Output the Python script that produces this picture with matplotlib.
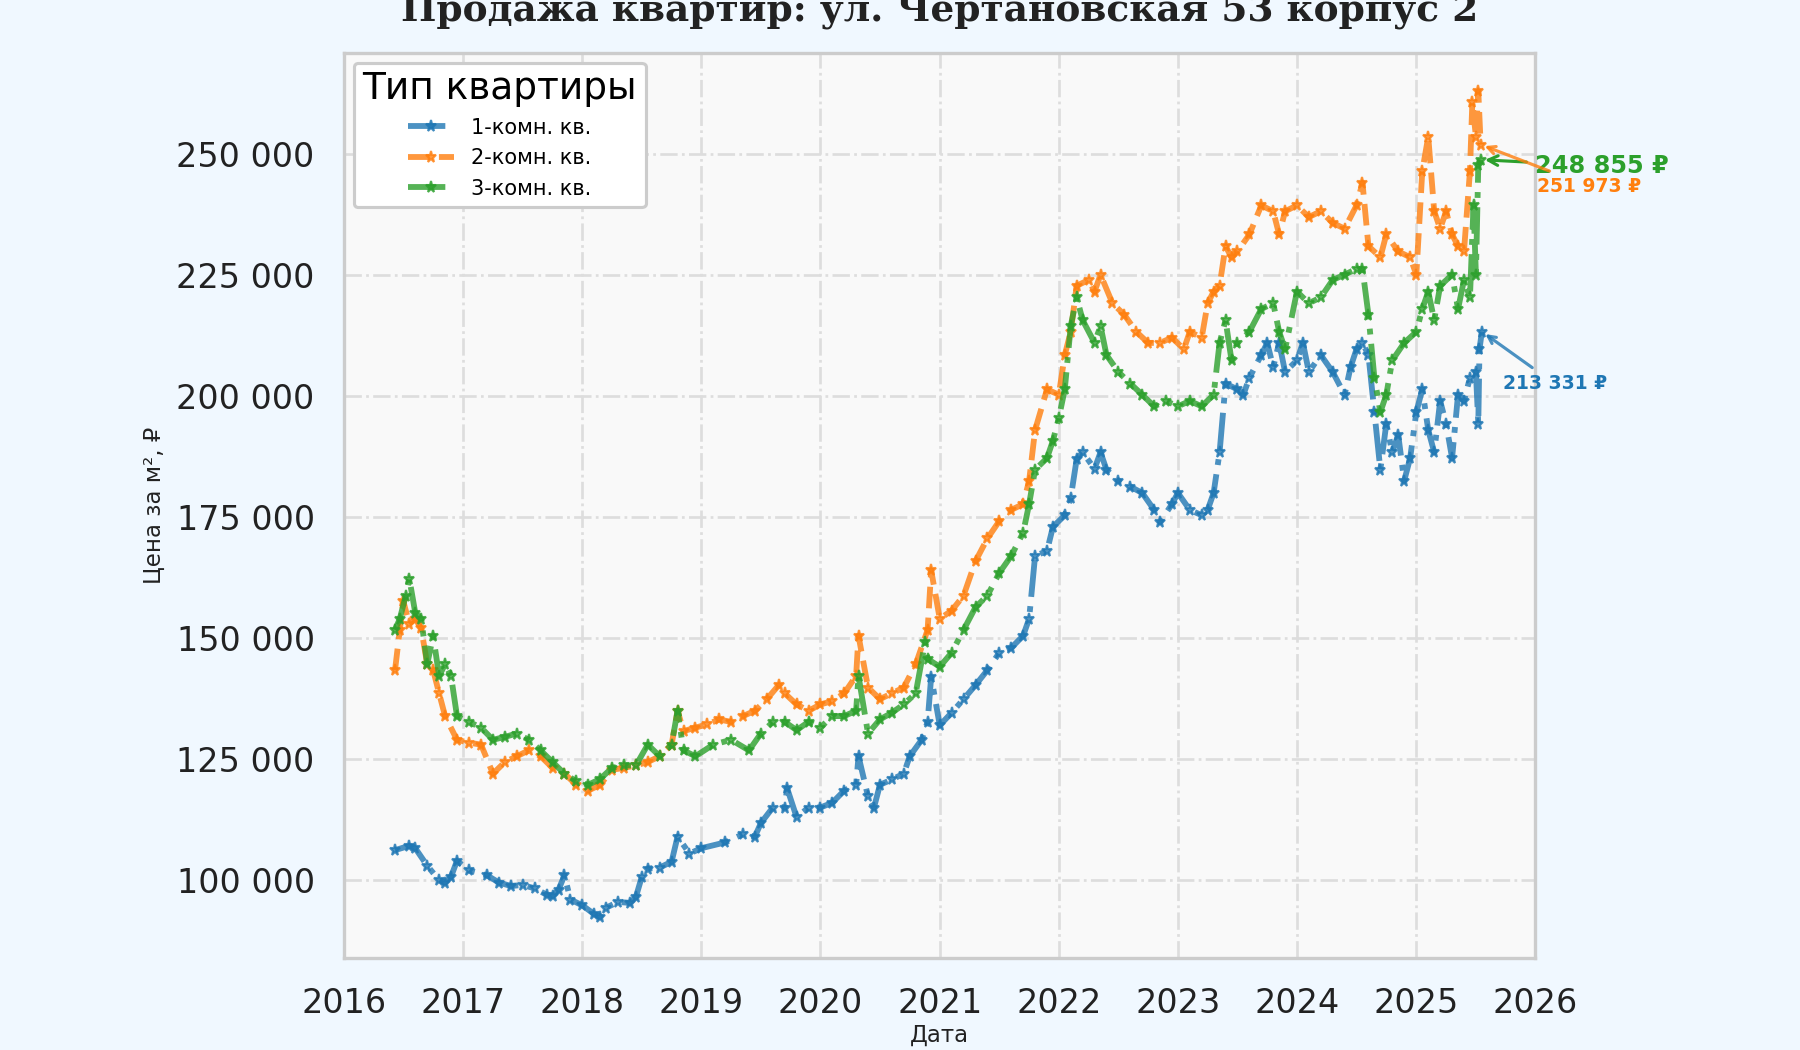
import matplotlib
matplotlib.use('Agg')
import matplotlib.pyplot as plt
import matplotlib.dates as mdates
from matplotlib.ticker import FuncFormatter, MultipleLocator
from datetime import datetime, timedelta

# --- data (decimal year, price per m2) ---
t1 = [2016.43, 2016.55, 2016.6, 2016.7, 2016.8, 2016.85, 2016.9, 2016.95, 2017.05, 2017.2,
      2017.3, 2017.4, 2017.5, 2017.6, 2017.7, 2017.75, 2017.8, 2017.85, 2017.9, 2018.0,
      2018.1, 2018.15, 2018.2, 2018.3, 2018.4, 2018.45, 2018.5, 2018.55, 2018.65, 2018.75,
      2018.8, 2018.9, 2019.0, 2019.2, 2019.35, 2019.45, 2019.5, 2019.6, 2019.7, 2019.72,
      2019.8, 2019.9, 2020.0, 2020.1, 2020.2, 2020.3, 2020.32, 2020.4, 2020.45, 2020.5,
      2020.6, 2020.7, 2020.75, 2020.85, 2020.9, 2020.93, 2021.0, 2021.1, 2021.2, 2021.3,
      2021.4, 2021.5, 2021.6, 2021.7, 2021.75, 2021.8, 2021.9, 2021.95, 2022.05, 2022.1,
      2022.15, 2022.2, 2022.3, 2022.35, 2022.4, 2022.5, 2022.6, 2022.7, 2022.8, 2022.85,
      2022.95, 2023.0, 2023.1, 2023.2, 2023.25, 2023.3, 2023.35, 2023.4, 2023.5, 2023.55,
      2023.6, 2023.7, 2023.75, 2023.8, 2023.85, 2023.9, 2024.0, 2024.05, 2024.1, 2024.2,
      2024.3, 2024.4, 2024.45, 2024.5, 2024.55, 2024.6, 2024.65, 2024.7, 2024.75, 2024.8,
      2024.85, 2024.9, 2024.95, 2025.0, 2025.05, 2025.1, 2025.15, 2025.2, 2025.25, 2025.3,
      2025.35, 2025.4, 2025.45, 2025.5, 2025.52, 2025.53, 2025.55]
room1 = [106200, 107100, 106600, 103000, 100000, 99500, 100700, 104000, 102000, 101000,
         99500, 98800, 99000, 98300, 97000, 96700, 98000, 101000, 96000, 94800,
         93000, 92400, 94300, 95500, 95300, 96500, 100700, 102400, 102600, 103800,
         109000, 105500, 106600, 107800, 109500, 109000, 111800, 115000, 115000, 119000,
         113000, 115000, 115000, 116000, 118500, 119700, 125600, 117300, 115000, 119700,
         120800, 122000, 125600, 129000, 132700, 142000, 132000, 134600, 137400, 140300,
         143400, 147000, 148000, 150500, 154000, 167000, 168000, 173000, 175400, 179000,
         187000, 188400, 185000, 188400, 184800, 182500, 181300, 180000, 176500, 174000,
         177700, 180000, 176500, 175400, 176500, 180000, 188400, 202600, 201400, 200300,
         203800, 208500, 211000, 206000, 211000, 205000, 207400, 211000, 205000, 208500,
         205000, 200300, 206000, 209700, 211000, 208500, 196700, 184800, 194300, 188400,
         192000, 182500, 187200, 196700, 201400, 193000, 188400, 199000, 194300, 187200,
         200300, 199000, 203800, 205000, 194300, 209700, 213331]

t2 = [2016.43, 2016.47, 2016.5, 2016.55, 2016.6, 2016.65, 2016.7, 2016.75, 2016.8, 2016.85,
      2016.95, 2017.05, 2017.15, 2017.25, 2017.35, 2017.45, 2017.55, 2017.65, 2017.75, 2017.85,
      2017.95, 2018.05, 2018.15, 2018.25, 2018.35, 2018.45, 2018.55, 2018.65, 2018.75, 2018.8,
      2018.85, 2018.95, 2019.05, 2019.15, 2019.25, 2019.35, 2019.45, 2019.55, 2019.65, 2019.7,
      2019.8, 2019.9, 2020.0, 2020.1, 2020.2, 2020.3, 2020.32, 2020.4, 2020.5, 2020.6,
      2020.7, 2020.8, 2020.9, 2020.93, 2021.0, 2021.1, 2021.2, 2021.3, 2021.4, 2021.5,
      2021.6, 2021.7, 2021.75, 2021.8, 2021.9, 2022.0, 2022.05, 2022.1, 2022.15, 2022.25,
      2022.3, 2022.35, 2022.45, 2022.55, 2022.65, 2022.75, 2022.85, 2022.95, 2023.05, 2023.1,
      2023.2, 2023.25, 2023.3, 2023.35, 2023.4, 2023.45, 2023.5, 2023.6, 2023.7, 2023.8,
      2023.85, 2023.9, 2024.0, 2024.1, 2024.2, 2024.3, 2024.4, 2024.5, 2024.55, 2024.6,
      2024.7, 2024.75, 2024.85, 2024.95, 2025.0, 2025.05, 2025.1, 2025.15, 2025.2, 2025.25,
      2025.3, 2025.35, 2025.4, 2025.45, 2025.47, 2025.5, 2025.52, 2025.54]
room2 = [143400, 151700, 157600, 152900, 154000, 152000, 144600, 143400, 138600, 133900,
         129000, 128400, 128000, 122000, 124400, 125600, 126800, 125600, 123200, 122000,
         119700, 118500, 119700, 122800, 123200, 123700, 124400, 125600, 128000, 135000,
         130800, 131500, 132200, 133200, 132700, 133900, 135000, 137400, 140300, 138600,
         136300, 135000, 136300, 137000, 138600, 142200, 150500, 139800, 137400, 138600,
         139800, 144600, 151700, 164000, 154000, 155700, 158800, 165900, 170600, 174200,
         176500, 177700, 182500, 193000, 201400, 200300, 208500, 213300, 222800, 224000,
         221600, 225100, 219200, 216800, 213300, 211000, 211000, 212100, 209700, 213300,
         212100, 219200, 221600, 222800, 231000, 228700, 229900, 233400, 239400, 238200,
         233400, 238200, 239400, 237000, 238200, 235800, 234600, 239400, 244100, 231000,
         228700, 233400, 229900, 228700, 225100, 246500, 253600, 238200, 234600, 238200,
         233400, 231000, 229900, 246500, 260700, 253600, 263000, 251973]

t3 = [2016.43, 2016.47, 2016.52, 2016.55, 2016.6, 2016.65, 2016.7, 2016.75, 2016.8, 2016.85,
      2016.9, 2016.95, 2017.05, 2017.15, 2017.25, 2017.35, 2017.45, 2017.55, 2017.65, 2017.75,
      2017.85, 2017.95, 2018.05, 2018.15, 2018.25, 2018.35, 2018.45, 2018.55, 2018.65, 2018.75,
      2018.8, 2018.85, 2018.95, 2019.1, 2019.25, 2019.4, 2019.5, 2019.6, 2019.7, 2019.8,
      2019.9, 2020.0, 2020.1, 2020.2, 2020.3, 2020.32, 2020.4, 2020.5, 2020.6, 2020.7,
      2020.8, 2020.88, 2020.9, 2021.0, 2021.1, 2021.2, 2021.3, 2021.4, 2021.5, 2021.6,
      2021.7, 2021.75, 2021.8, 2021.9, 2021.95, 2022.0, 2022.05, 2022.1, 2022.15, 2022.2,
      2022.3, 2022.35, 2022.4, 2022.5, 2022.6, 2022.7, 2022.8, 2022.9, 2023.0, 2023.1,
      2023.2, 2023.3, 2023.35, 2023.4, 2023.45, 2023.5, 2023.6, 2023.7, 2023.8, 2023.85,
      2023.9, 2024.0, 2024.1, 2024.2, 2024.3, 2024.4, 2024.5, 2024.55, 2024.6, 2024.65,
      2024.7, 2024.75, 2024.8, 2024.9, 2025.0, 2025.05, 2025.1, 2025.15, 2025.2, 2025.3,
      2025.35, 2025.4, 2025.45, 2025.48, 2025.5, 2025.52, 2025.54]
room3 = [151700, 154000, 158800, 162300, 155200, 154000, 144600, 150500, 142200, 144600,
         142200, 133900, 132700, 131500, 129000, 129600, 130300, 129000, 126800, 124400,
         122000, 120400, 119700, 120900, 123200, 123700, 123700, 128000, 125600, 128000,
         135000, 126800, 125600, 128000, 129000, 126800, 130300, 132700, 132700, 131000,
         132700, 131500, 133900, 133900, 135000, 142200, 130300, 133200, 134600, 136300,
         138600, 149300, 145700, 144100, 147000, 151700, 156400, 158800, 163500, 167000,
         171800, 177700, 184800, 187200, 190800, 195500, 201400, 214500, 220400, 215700,
         211000, 214500, 208500, 205000, 202600, 200300, 197900, 199000, 197900, 199000,
         197900, 200300, 211000, 215700, 207400, 211000, 213300, 218000, 219200, 213300,
         209700, 221600, 219200, 220400, 224000, 225100, 226300, 226300, 216800, 203800,
         196700, 200300, 207400, 211000, 213300, 218000, 221600, 215700, 222800, 225100,
         218000, 224000, 220400, 239400, 225100, 247700, 248855]

labels = ['1-комн. кв.', '2-комн. кв.', '3-комн. кв.']
colors = ['#1f77b4', '#ff7f0e', '#2ca02c']
styles = ['-.', '--', '-.']


def to_dates(years):
    out = []
    for y in years:
        base = datetime(int(y), 1, 1)
        out.append(base + timedelta(days=(y - int(y)) * 365.25))
    return out


def fmt_rub(v):
    return f'{v:,.0f} ₽'.replace(',', ' ')


plt.rcParams['font.family'] = ['DejaVu Sans']

fig = plt.figure(figsize=(12, 7), dpi=150, facecolor='#f0f8ff')
ax = fig.add_axes([0.191, 0.088, 0.662, 0.862])
ax.set_facecolor('#f9f9f9')

series = [(t1, room1), (t2, room2), (t3, room3)]
for (t, v), lab, col, ls in zip(series, labels, colors, styles):
    ax.plot(to_dates(t), v, linestyle=ls, color=col, linewidth=2.8, alpha=0.8,
            marker='*', markersize=5.5, label=lab)

ax.set_xlim(datetime(2016, 1, 1), datetime(2026, 1, 1))
ax.set_ylim(84000, 271000)
ax.xaxis.set_major_locator(mdates.YearLocator())
ax.xaxis.set_major_formatter(mdates.DateFormatter('%Y'))
ax.yaxis.set_major_locator(MultipleLocator(25000))
ax.yaxis.set_major_formatter(FuncFormatter(lambda x, p: f'{x:,.0f}'.replace(',', ' ')))

ax.grid(True, linestyle='-.', color='#dddddd', linewidth=1.3)
ax.tick_params(axis='both', length=0, pad=14, labelsize=16, colors='#222222')
for s in ax.spines.values():
    s.set_color('#cccccc')
    s.set_linewidth(1.6)

ax.set_title('Продажа квартир: ул. Чертановская 53 корпус 2', family='DejaVu Serif',
             fontweight='bold', fontsize=18, color='#222222', pad=15)
ax.set_xlabel('Дата', fontsize=11, color='#222222', labelpad=2)
ax.set_ylabel('Цена за м², ₽', fontsize=11, color='#222222', labelpad=5)

leg = ax.legend(title='Тип квартиры', loc='upper left', fontsize=10, title_fontsize=18,
                frameon=True, facecolor='white', edgecolor='#cccccc', framealpha=1,
                handlelength=2.2)
leg.get_frame().set_linewidth(1.5)

# last-value annotations
d1 = to_dates([t1[-1]])[0]
d2 = to_dates([t2[-1]])[0]
d3 = to_dates([t3[-1]])[0]
ax.annotate(fmt_rub(room3[-1]), xy=(d3, room3[-1]),
            xytext=(26, -3), textcoords='offset points', fontsize=11.5, fontweight='bold',
            color=colors[2], va='center', ha='left', annotation_clip=False,
            arrowprops=dict(arrowstyle='->', color=colors[2], lw=1.5))
ax.annotate(fmt_rub(room2[-1]), xy=(d2, room2[-1]),
            xytext=(27, -20), textcoords='offset points', fontsize=9, fontweight='bold',
            color=colors[1], va='center', ha='left', annotation_clip=False,
            arrowprops=dict(arrowstyle='->', color=colors[1], lw=1.5, alpha=0.8))
ax.annotate(fmt_rub(room1[-1]), xy=(d1, room1[-1]),
            xytext=(10, -25), textcoords='offset points', fontsize=9, fontweight='bold',
            color=colors[0], va='center', ha='left', annotation_clip=False,
            arrowprops=dict(arrowstyle='->', color=colors[0], lw=1.5, alpha=0.8))

fig.savefig('out.png', dpi=150, facecolor=fig.get_facecolor())
